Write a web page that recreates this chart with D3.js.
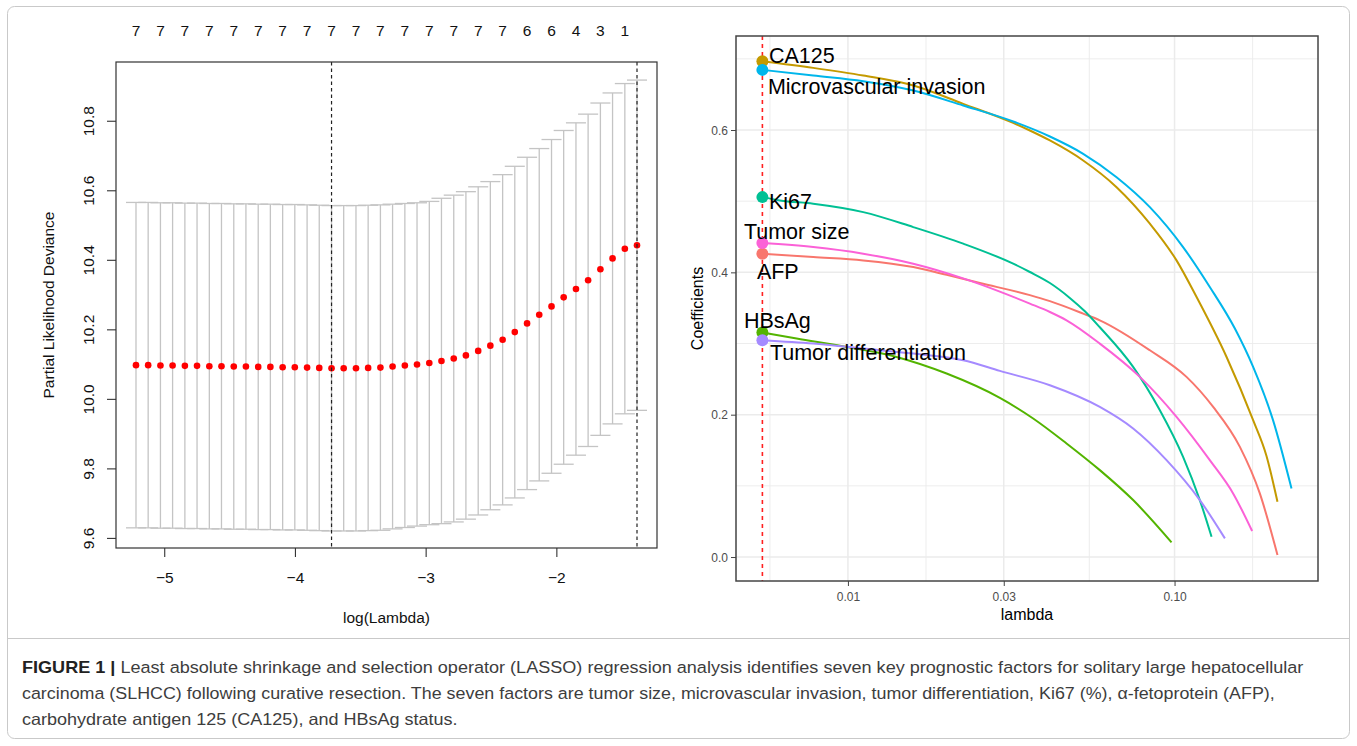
<!DOCTYPE html>
<html><head><meta charset="utf-8">
<script src="https://cdn.jsdelivr.net/npm/d3@7"></script>
<style>
body{margin:0;background:#fff}
svg{display:block}
text{font-family:"Liberation Sans",Arial,Helvetica,sans-serif}
</style>
</head><body>
<svg id="fig" width="1357" height="746"></svg>
<script>
// ---------------- Left panel data (cv.glmnet) ----------------
const logLambda = [-5.216,-5.123,-5.029,-4.936,-4.842,-4.749,-4.655,-4.562,-4.468,-4.375,-4.281,-4.188,-4.094,-4.001,-3.907,-3.814,-3.720,-3.627,-3.533,-3.440,-3.346,-3.253,-3.159,-3.066,-2.972,-2.879,-2.785,-2.692,-2.598,-2.505,-2.411,-2.318,-2.224,-2.131,-2.037,-1.944,-1.850,-1.757,-1.663,-1.570,-1.476,-1.383];
const cvm = [10.097,10.097,10.096,10.096,10.095,10.095,10.094,10.094,10.093,10.093,10.092,10.092,10.091,10.091,10.090,10.089,10.088,10.088,10.088,10.089,10.090,10.093,10.096,10.099,10.103,10.109,10.116,10.125,10.138,10.153,10.170,10.192,10.217,10.242,10.266,10.292,10.316,10.341,10.373,10.404,10.432,10.442];
const cvsd = [0.468,0.468,0.468,0.468,0.468,0.468,0.468,0.468,0.468,0.468,0.468,0.468,0.468,0.468,0.468,0.468,0.468,0.468,0.468,0.468,0.468,0.467,0.466,0.465,0.465,0.468,0.470,0.471,0.472,0.472,0.475,0.477,0.478,0.478,0.480,0.480,0.478,0.478,0.478,0.476,0.475,0.475];
const nzero = [7,7,7,7,7,7,7,7,7,7,7,7,7,7,7,7,7,7,7,7,7,7,7,7,7,7,7,7,7,7,7,7,6,6,6,5,4,4,3,2,1,1];
const lambdaMinLog = -3.720;
const lambda1seLog = -1.383;
const leftYTicks = [9.6,9.8,10.0,10.2,10.4,10.6,10.8];
const leftXTicks = [-5,-4,-3,-2];

// ---------------- Right panel data (coefficient paths) ----------------
const factors = ["AFP","CA125","HBsAg","Ki67","Microvascular invasion","Tumor differentiation","Tumor size"];
const lambdaAFP = [0.005472,0.007830,0.01114,0.01585,0.02005,0.02535,0.03606,0.04153,0.05251,0.05905,0.08402,0.1088,0.1313,0.1585,0.1824,0.2066];
const coefAFP   = [0.4262,0.4215,0.4168,0.4074,0.3965,0.3850,0.3680,0.3595,0.3420,0.3326,0.2905,0.2531,0.2109,0.1548,0.0894,0.0028];
const lambdaCA125 = [0.005472,0.007830,0.01114,0.01585,0.02254,0.03206,0.03606,0.04153,0.05251,0.06645,0.08402,0.1014,0.1168,0.1443,0.1740,0.1912,0.2066];
const coefCA125   = [0.6966,0.6873,0.6765,0.6625,0.6368,0.6100,0.5993,0.5853,0.5572,0.5197,0.4684,0.4168,0.3653,0.2811,0.1923,0.1420,0.0776];
const lambdaHBsAg = [0.005472,0.006966,0.009908,0.01409,0.02005,0.02919,0.03691,0.04670,0.05905,0.07468,0.09790];
const coefHBsAg   = [0.3154,0.3069,0.2952,0.2811,0.2578,0.2236,0.1947,0.1596,0.1221,0.0800,0.0206];
const lambdaKi67 = [0.005472,0.006190,0.007830,0.01114,0.01585,0.02254,0.03206,0.03606,0.04153,0.04779,0.05314,0.05905,0.07468,0.09016,0.1062,0.1195,0.1298];
const coefKi67   = [0.5057,0.5011,0.4964,0.4846,0.4636,0.4403,0.4122,0.4005,0.3850,0.3641,0.3453,0.3228,0.2671,0.2063,0.1408,0.0800,0.0285];
const lambdaMVI = [0.005472,0.007830,0.01114,0.01585,0.02254,0.03206,0.04153,0.05251,0.06645,0.08402,0.1062,0.1282,0.1530,0.1740,0.2002,0.2280];
const coefMVI   = [0.6845,0.6765,0.6685,0.6554,0.6344,0.6120,0.5909,0.5666,0.5337,0.4916,0.4355,0.3794,0.3210,0.2671,0.1923,0.0964];
const lambdaTD = [0.005472,0.007830,0.01114,0.01585,0.02254,0.02919,0.04153,0.05905,0.07468,0.09452,0.1195,0.1426];
const coefTD   = [0.3046,0.2999,0.2929,0.2859,0.2765,0.2615,0.2414,0.2109,0.1806,0.1361,0.0800,0.0262];
const lambdaTS = [0.005472,0.007830,0.01114,0.01585,0.02254,0.02851,0.03606,0.04153,0.04670,0.05905,0.07829,0.1014,0.1282,0.1511,0.1728];
const coefTS   = [0.4411,0.4355,0.4262,0.4122,0.3915,0.3747,0.3561,0.3443,0.3326,0.2999,0.2531,0.1969,0.1361,0.0894,0.0365];
const lambdaSelected = 0.005472;
const rightYTicks = [0.0,0.2,0.4,0.6];
const rightYMinor = [0.1,0.3,0.5,0.7];
const rightXTicks = [0.01,0.03,0.10];
const rightXMinor = [0.005772,0.01734,0.05483,0.1734];

const paths = [
  {name:"AFP", lambda:lambdaAFP, coef:coefAFP},
  {name:"CA125", lambda:lambdaCA125, coef:coefCA125},
  {name:"HBsAg", lambda:lambdaHBsAg, coef:coefHBsAg},
  {name:"Ki67", lambda:lambdaKi67, coef:coefKi67},
  {name:"Microvascular invasion", lambda:lambdaMVI, coef:coefMVI},
  {name:"Tumor differentiation", lambda:lambdaTD, coef:coefTD},
  {name:"Tumor size", lambda:lambdaTS, coef:coefTS}
];
const palette = ["#F8766D","#C49A00","#53B400","#00C094","#00B6EB","#A58AFF","#FB61D7"];
// label offsets (px) from the starting point, like ggrepel placement
const labelOffset = {
  "AFP":[-5.5,25], "CA125":[6.5,1.5], "HBsAg":[-18.5,-4.5], "Ki67":[6.5,11.5],
  "Microvascular invasion":[5.5,24], "Tumor differentiation":[7.5,20], "Tumor size":[-18.5,-4.5]
};

const captionLines = [
  [["FIGURE 1 | ",true],["Least absolute shrinkage and selection operator (LASSO) regression analysis identifies seven key prognostic factors for solitary large hepatocellular",false]],
  [["carcinoma (SLHCC) following curative resection. The seven factors are tumor size, microvascular invasion, tumor differentiation, Ki67 (%), α-fetoprotein (AFP),",false]],
  [["carbohydrate antigen 125 (CA125), and HBsAg status.",false]]
];

const svg = d3.select("#fig");

// ---------- outer frame ----------
svg.append("rect").attr("x",7.5).attr("y",6.5).attr("width",1342).attr("height",732)
  .attr("rx",7).attr("fill","none").attr("stroke","#c9c9c9").attr("stroke-width",1);
svg.append("line").attr("x1",8).attr("x2",1349).attr("y1",638.5).attr("y2",638.5)
  .attr("stroke","#c9c9c9").attr("stroke-width",1);

// ================= LEFT PANEL =================
const LB = {l:116, r:657, t:62, b:548};
const xL = d3.scaleLinear().domain([-5.369,-1.230]).range([LB.l,LB.r]);
const yL = d3.scaleLinear().domain([9.571,10.969]).range([LB.b,LB.t]);
const gL = svg.append("g");
const fsL = 15.5;
const barw = 0.02*(d3.max(logLambda)-d3.min(logLambda));
const bars = gL.append("g").attr("stroke","#c4c4c4").attr("stroke-width",1.3);
logLambda.forEach((lx,i)=>{
  const up = cvm[i]+cvsd[i], lo = cvm[i]-cvsd[i];
  bars.append("line").attr("x1",xL(lx)).attr("x2",xL(lx)).attr("y1",yL(up)).attr("y2",yL(lo));
  bars.append("line").attr("x1",xL(lx-barw)).attr("x2",xL(lx+barw)).attr("y1",yL(up)).attr("y2",yL(up));
  bars.append("line").attr("x1",xL(lx-barw)).attr("x2",xL(lx+barw)).attr("y1",yL(lo)).attr("y2",yL(lo));
});
gL.append("g").selectAll("circle").data(logLambda).join("circle")
  .attr("cx",d=>xL(d)).attr("cy",(d,i)=>yL(cvm[i])).attr("r",3.3).attr("fill","#ff0000");
// top numbers
gL.append("g").selectAll("text").data(logLambda.map((d,i)=>[d,nzero[i],i]).filter(d=>d[2]%2===0)).join("text")
  .attr("x",d=>xL(d[0])).attr("y",36).attr("text-anchor","middle")
  .attr("font-size",fsL).attr("fill","#111").text(d=>d[1]);
// dashed lines
[lambdaMinLog, lambda1seLog].forEach(v=>{
  gL.append("line").attr("x1",xL(v)).attr("x2",xL(v)).attr("y1",LB.t).attr("y2",LB.b)
    .attr("stroke","#222").attr("stroke-width",1.2).attr("stroke-dasharray","3.5,3");
});
// box
gL.append("rect").attr("x",LB.l).attr("y",LB.t).attr("width",LB.r-LB.l).attr("height",LB.b-LB.t)
  .attr("fill","none").attr("stroke","#333").attr("stroke-width",1.2);
// y axis
const axL = gL.append("g").attr("transform",`translate(${LB.l},0)`)
  .call(d3.axisLeft(yL).tickValues(leftYTicks).tickSize(9).tickFormat(d3.format(".1f")));
axL.select(".domain").remove();
axL.selectAll("line").attr("stroke","#333").attr("stroke-width",1.1);
axL.selectAll("text").attr("x",null).attr("y",null).attr("dy","0.35em")
  .attr("text-anchor","middle").attr("transform","translate(-27,0) rotate(-90)")
  .attr("font-size",fsL).attr("font-family",null).attr("fill","#111");
// x axis
const axB = gL.append("g").attr("transform",`translate(0,${LB.b})`)
  .call(d3.axisBottom(xL).tickValues(leftXTicks).tickSize(9).tickFormat(d=>"\u2212"+Math.abs(d)));
axB.select(".domain").remove();
axB.selectAll("line").attr("stroke","#333").attr("stroke-width",1.1);
axB.selectAll("text").attr("y",35).attr("dy",null).attr("font-size",fsL).attr("font-family",null).attr("fill","#111");
gL.append("text").attr("x",(LB.l+LB.r)/2).attr("y",623).attr("text-anchor","middle")
  .attr("font-size",fsL).attr("fill","#111").text("log(Lambda)");
gL.append("text").attr("transform",`translate(49,${(LB.t+LB.b)/2}) rotate(-90)`).attr("dy","0.35em")
  .attr("text-anchor","middle").attr("font-size",fsL).attr("fill","#111").text("Partial Likelihood Deviance");

// ================= RIGHT PANEL =================
const RB = {l:736, r:1318, t:36, b:581};
const xR = d3.scaleLog().domain([0.004543,0.2749]).range([RB.l,RB.r]);
const yR = d3.scaleLinear().domain([-0.0337,0.7321]).range([RB.b,RB.t]);
const gR = svg.append("g");
const grid = gR.append("g").attr("stroke","#ebebeb");
rightYMinor.forEach(v=>grid.append("line").attr("x1",RB.l).attr("x2",RB.r).attr("y1",yR(v)).attr("y2",yR(v)).attr("stroke-width",0.9));
rightXMinor.forEach(v=>grid.append("line").attr("y1",RB.t).attr("y2",RB.b).attr("x1",xR(v)).attr("x2",xR(v)).attr("stroke-width",0.9));
rightYTicks.forEach(v=>grid.append("line").attr("x1",RB.l).attr("x2",RB.r).attr("y1",yR(v)).attr("y2",yR(v)).attr("stroke-width",1.5));
rightXTicks.forEach(v=>grid.append("line").attr("y1",RB.t).attr("y2",RB.b).attr("x1",xR(v)).attr("x2",xR(v)).attr("stroke-width",1.5));

const line = d3.line().x(d=>xR(d[0])).y(d=>yR(d[1])).curve(d3.curveMonotoneX);
paths.forEach((p,k)=>{
  gR.append("path").attr("d",line(p.lambda.map((l,i)=>[l,p.coef[i]])))
    .attr("fill","none").attr("stroke",palette[k]).attr("stroke-width",2);
});
gR.append("line").attr("x1",xR(lambdaSelected)).attr("x2",xR(lambdaSelected)).attr("y1",RB.t).attr("y2",RB.b)
  .attr("stroke","#ff2020").attr("stroke-width",1.6).attr("stroke-dasharray","4,4");
paths.forEach((p,k)=>{
  gR.append("circle").attr("cx",xR(p.lambda[0])).attr("cy",yR(p.coef[0])).attr("r",6).attr("fill",palette[k]);
});
paths.forEach((p,k)=>{
  const o = labelOffset[p.name];
  gR.append("text").attr("x",xR(p.lambda[0])+o[0]).attr("y",yR(p.coef[0])+o[1])
    .attr("font-size",21.5).attr("fill","#000").text(p.name);
});
gR.append("rect").attr("x",RB.l).attr("y",RB.t).attr("width",RB.r-RB.l).attr("height",RB.b-RB.t)
  .attr("fill","none").attr("stroke","#444").attr("stroke-width",1.5);
const axRL = gR.append("g").attr("transform",`translate(${RB.l},0)`)
  .call(d3.axisLeft(yR).tickValues(rightYTicks).tickSize(5).tickPadding(3).tickFormat(d3.format(".1f")));
axRL.select(".domain").remove();
axRL.selectAll("line").attr("stroke","#444");
axRL.selectAll("text").attr("font-size",12).attr("font-family",null).attr("fill","#4d4d4d").attr("dy","0.35em");
const axRB = gR.append("g").attr("transform",`translate(0,${RB.b})`)
  .call(d3.axisBottom(xR).tickValues(rightXTicks).tickSize(5).tickFormat(d3.format(".2f")));
axRB.select(".domain").remove();
axRB.selectAll("line").attr("stroke","#444");
axRB.selectAll("text").attr("y",20).attr("dy",null).attr("font-size",12).attr("font-family",null).attr("fill","#4d4d4d");
gR.append("text").attr("x",(RB.l+RB.r)/2).attr("y",620).attr("text-anchor","middle")
  .attr("font-size",16).attr("fill","#000").text("lambda");
gR.append("text").attr("transform",`translate(697,${(RB.t+RB.b)/2}) rotate(-90)`).attr("dy","0.35em")
  .attr("text-anchor","middle").attr("font-size",16).attr("fill","#000").text("Coefficients");

// ================= CAPTION =================
const capG = svg.append("g");
const baselines = [672.5,698.5,724.5];
const lineEnds = [1304,1276,458];
captionLines.forEach((parts,li)=>{
  const t = capG.append("text").attr("font-size",16.5).attr("fill","#3d3d3d")
    .attr("transform",`translate(22,${baselines[li]})`);
  parts.forEach(([s,b])=>{
    t.append("tspan").attr("font-weight",b?"bold":"normal").attr("fill",b?"#222":"#3d3d3d").text(s);
  });
  const w = t.node().getComputedTextLength();
  t.attr("transform",`translate(22,${baselines[li]}) scale(${(lineEnds[li]-22)/w},1)`);
});
</script>
</body></html>
